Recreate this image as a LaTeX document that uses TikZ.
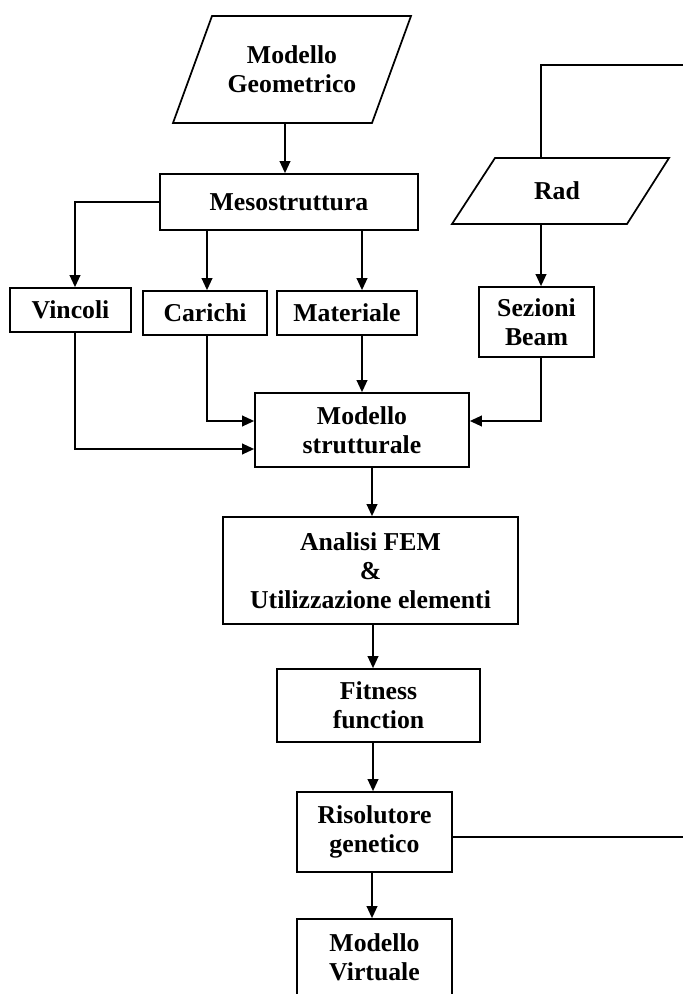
\documentclass[tikz,border=0pt]{standalone}
\usepackage{fontspec}
\setmainfont{Liberation Serif}
\usetikzlibrary{arrows.meta,calc}
\begin{document}
\begin{tikzpicture}[x=0.75pt,y=-0.75pt,
  txt/.style={align=center,inner sep=0pt,font=\bfseries\fontsize{19.3}{21.8}\selectfont},
  box/.style={txt,draw,line width=1.3pt},
  line/.style={line width=1.25pt},
  arr/.style={line,-{Triangle[length=9pt,width=8pt]}}]
\clip (0,0) rectangle (683,994);
\fill[white] (0,0) rectangle (683,994);
% parallelograms
\draw[line width=1.3pt] (212,16) -- (411,16) -- (372,123) -- (173,123) -- cycle;
\node[txt,minimum height=80.25pt,minimum width=120pt] (geo) at (292,69.5) {Modello\\Geometrico};
\draw[line width=1.3pt] (495,158) -- (669,158) -- (627,224) -- (452,224) -- cycle;
\node[txt,minimum height=49.5pt,minimum width=60pt] (rad) at (557,191) {Rad};
% boxes
\node[box,minimum width=193.5pt,minimum height=42pt] (meso) at (289,202) {Mesostruttura};
\node[box,minimum width=90.75pt,minimum height=33pt] (vinc) at (70.5,310) {Vincoli};
\node[box,minimum width=93pt,minimum height=33pt] (car) at (205,313) {Carichi};
\node[box,minimum width=105pt,minimum height=33pt] (mat) at (347,313) {Materiale};
\node[box,minimum width=86.25pt,minimum height=52.5pt] (sez) at (536.5,322) {Sezioni\\Beam};
\node[box,minimum width=160.5pt,minimum height=55.5pt] (ms) at (362,430) {Modello\\strutturale};
\node[box,minimum width=221.25pt,minimum height=80.25pt] (fem) at (370.5,570.5) {Analisi FEM\\\&\\Utilizzazione elementi};
\node[box,minimum width=152.25pt,minimum height=54.75pt] (fit) at (378.5,705.5) {Fitness\\function};
\node[box,minimum width=116.25pt,minimum height=60pt] (ris) at (374.5,832) {Risolutore\\genetico};
\node[box,minimum width=116.25pt,minimum height=57.75pt] (virt) at (374.5,957.5) {Modello\\Virtuale};
\coordinate (e1) at (683,65);
\coordinate (e2) at (683,837);
% connectors
\draw[arr] ($(geo.south)+(-7,0)$) -- ($(meso.north)+(-4,0)$);
\draw[arr] (meso.west) -| ($(vinc.north)+(4.5,0)$);
\draw[arr] ($(meso.south)+(-82,0)$) -- ($(car.north)+(2,0)$);
\draw[arr] ($(meso.south)+(73,0)$) -- ($(mat.north)+(15,0)$);
\draw[arr] ($(mat.south)+(15,0)$) -- (ms.north);
\draw[arr] ($(car.south)+(2,0)$) |- ($(ms.west)+(0,-9)$);
\draw[arr] ($(vinc.south)+(4.5,0)$) |- ($(ms.west)+(0,19)$);
\draw[arr] ($(rad.south)+(-16,0)$) -- ($(sez.north)+(4.5,0)$);
\draw[arr] ($(sez.south)+(4.5,0)$) |- ($(ms.east)+(0,-9)$);
\draw[line] ($(rad.north)+(-16,0)$) |- (e1);
\draw[arr] ($(ms.south)+(10,0)$) -- ($(fem.north)+(1.5,0)$);
\draw[arr] ($(fem.south)+(2.5,0)$) -- ($(fit.north)+(-5.5,0)$);
\draw[arr] ($(fit.south)+(-5.5,0)$) -- ($(ris.north)+(-1.5,0)$);
\draw[arr] ($(ris.south)+(-2.5,0)$) -- ($(virt.north)+(-2.5,0)$);
\draw[line] ($(ris.east)+(0,5)$) -- (e2);
\end{tikzpicture}
\end{document}
